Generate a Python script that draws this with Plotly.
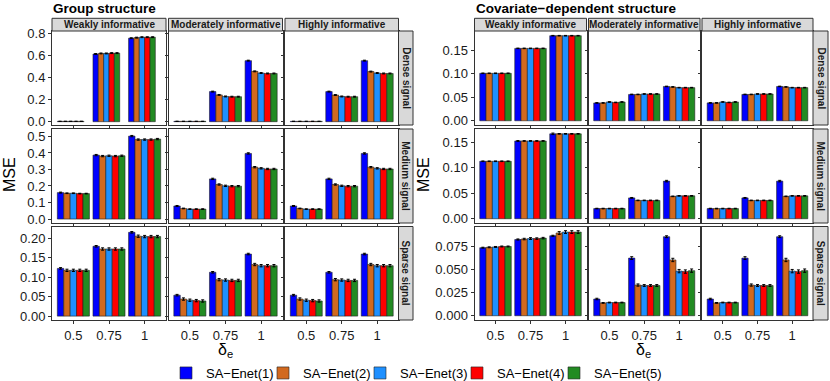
import plotly.graph_objects as go

W, H = 830, 381

# categories / labels
deltas = [1, 2, 3]
delta_labels = ["0.5", "0.75", "1"]
methods = ["SA\u2212Enet(1)", "SA\u2212Enet(2)", "SA\u2212Enet(3)", "SA\u2212Enet(4)", "SA\u2212Enet(5)"]
colors = ["#0000FF", "#D2691E", "#1E90FF", "#FF0000", "#228B22"]
col_names = ["Weakly informative", "Moderately informative", "Highly informative"]
row_names = ["Dense signal", "Medium signal", "Sparse signal"]

# MSE values, one list per method, values over delta_e = 0.5, 0.75, 1
# Group structure
grp_dense_weak = [[0.003, 0.612, 0.755], [0.003, 0.617, 0.760], [0.003, 0.617, 0.764], [0.003, 0.620, 0.764], [0.003, 0.620, 0.764]]
grp_dense_mod = [[0.003, 0.272, 0.552], [0.003, 0.242, 0.455], [0.003, 0.228, 0.440], [0.003, 0.226, 0.436], [0.003, 0.226, 0.436]]
grp_dense_high = [[0.003, 0.272, 0.552], [0.003, 0.241, 0.453], [0.003, 0.228, 0.440], [0.003, 0.226, 0.436], [0.003, 0.226, 0.436]]
grp_med_weak = [[0.160, 0.387, 0.502], [0.156, 0.381, 0.481], [0.156, 0.383, 0.481], [0.154, 0.381, 0.481], [0.154, 0.383, 0.484]]
grp_med_mod = [[0.079, 0.243, 0.397], [0.064, 0.209, 0.314], [0.060, 0.201, 0.307], [0.060, 0.199, 0.303], [0.060, 0.199, 0.303]]
grp_med_high = [[0.079, 0.243, 0.397], [0.064, 0.209, 0.314], [0.060, 0.201, 0.307], [0.060, 0.199, 0.303], [0.060, 0.199, 0.303]]
grp_sparse_weak = [[0.123, 0.180, 0.216], [0.118, 0.173, 0.206], [0.118, 0.173, 0.205], [0.118, 0.173, 0.205], [0.118, 0.173, 0.205]]
grp_sparse_mod = [[0.054, 0.113, 0.160], [0.044, 0.094, 0.133], [0.041, 0.093, 0.130], [0.040, 0.092, 0.130], [0.039, 0.092, 0.130]]
grp_sparse_high = [[0.054, 0.113, 0.160], [0.044, 0.094, 0.133], [0.041, 0.093, 0.130], [0.040, 0.092, 0.130], [0.039, 0.092, 0.130]]

# Covariate-dependent structure
cov_dense_weak = [[0.101, 0.154, 0.181], [0.101, 0.154, 0.181], [0.101, 0.154, 0.181], [0.101, 0.154, 0.181], [0.101, 0.154, 0.181]]
cov_dense_mod = [[0.038, 0.056, 0.073], [0.038, 0.056, 0.072], [0.040, 0.057, 0.0705], [0.039, 0.057, 0.0705], [0.040, 0.057, 0.0705]]
cov_dense_high = [[0.038, 0.056, 0.073], [0.038, 0.056, 0.072], [0.040, 0.057, 0.0705], [0.039, 0.057, 0.0705], [0.040, 0.057, 0.0705]]
cov_med_weak = [[0.113, 0.153, 0.167], [0.113, 0.153, 0.167], [0.113, 0.153, 0.167], [0.113, 0.153, 0.167], [0.113, 0.153, 0.167]]
cov_med_mod = [[0.020, 0.041, 0.074], [0.020, 0.036, 0.044], [0.020, 0.036, 0.045], [0.020, 0.036, 0.045], [0.020, 0.036, 0.045]]
cov_med_high = [[0.020, 0.041, 0.074], [0.020, 0.036, 0.044], [0.020, 0.036, 0.045], [0.020, 0.036, 0.045], [0.020, 0.036, 0.045]]
cov_sparse_weak = [[0.0732, 0.0820, 0.0860], [0.0736, 0.0825, 0.0890], [0.0740, 0.0830, 0.0900], [0.0745, 0.0830, 0.0900], [0.0745, 0.0835, 0.0900]]
cov_sparse_mod = [[0.0180, 0.0620, 0.0850], [0.0138, 0.0330, 0.0600], [0.0142, 0.0325, 0.0480], [0.0142, 0.0325, 0.0475], [0.0142, 0.0325, 0.0485]]
cov_sparse_high = [[0.0180, 0.0620, 0.0850], [0.0138, 0.0330, 0.0600], [0.0142, 0.0325, 0.0480], [0.0142, 0.0325, 0.0475], [0.0142, 0.0325, 0.0485]]

# standard errors (same layout)
grp_dense_se = [[0.001, 0.004, 0.004], [0.001, 0.004, 0.004], [0.001, 0.004, 0.004], [0.001, 0.004, 0.004], [0.001, 0.004, 0.004]]
grp_med_se = [[0.003, 0.004, 0.004], [0.002, 0.004, 0.004], [0.002, 0.004, 0.004], [0.002, 0.004, 0.004], [0.002, 0.004, 0.004]]
grp_sparse_se = [[0.002, 0.002, 0.002], [0.003, 0.003, 0.003], [0.003, 0.003, 0.003], [0.003, 0.003, 0.003], [0.003, 0.003, 0.003]]
cov_dense_se = [[0.0006, 0.0006, 0.0006], [0.0006, 0.0006, 0.0006], [0.0006, 0.0006, 0.0006], [0.0006, 0.0006, 0.0006], [0.0006, 0.0006, 0.0006]]
cov_med_se = [[0.0006, 0.0008, 0.0015], [0.0006, 0.0006, 0.0006], [0.0006, 0.0006, 0.0006], [0.0006, 0.0006, 0.0006], [0.0006, 0.0006, 0.0006]]
cov_sparse_se = [[0.0005, 0.0006, 0.0006], [0.0005, 0.0008, 0.0015], [0.0005, 0.0010, 0.0015], [0.0005, 0.0008, 0.0015], [0.0005, 0.0008, 0.0015]]
cov_sparse_mod_se = [[0.0008, 0.0015, 0.0010], [0.0004, 0.0012, 0.0018], [0.0004, 0.0010, 0.0018], [0.0004, 0.0010, 0.0018], [0.0004, 0.0010, 0.0018]]

blocks = [
    {"title": "Group structure",
     "panels": [[grp_dense_weak, grp_dense_mod, grp_dense_high],
                [grp_med_weak, grp_med_mod, grp_med_high],
                [grp_sparse_weak, grp_sparse_mod, grp_sparse_high]],
     "se": [[grp_dense_se] * 3, [grp_med_se] * 3, [grp_sparse_se] * 3],
     "yrange": [[-0.03, 0.82], [-0.024, 0.545], [-0.01, 0.231]],
     "dtick": [0.2, 0.1, 0.05], "fmt": [".1f", ".1f", ".2f"],
     "xs": [(52, 166), (168.5, 282.5), (285, 398.5)], "strip": (398.5, 413),
     "ylab_x": 10},
    {"title": "Covariate\u2212dependent structure",
     "panels": [[cov_dense_weak, cov_dense_mod, cov_dense_high],
                [cov_med_weak, cov_med_mod, cov_med_high],
                [cov_sparse_weak, cov_sparse_mod, cov_sparse_high]],
     "se": [[cov_dense_se] * 3, [cov_med_se] * 3, [cov_sparse_se, cov_sparse_mod_se, cov_sparse_mod_se]],
     "yrange": [[-0.009, 0.191], [-0.0084, 0.1765], [-0.0046, 0.096]],
     "dtick": [0.05, 0.05, 0.025], "fmt": [".2f", ".2f", ".3f"],
     "xs": [(474.5, 586.5), (588.5, 700), (702, 813)], "strip": (813, 828),
     "ylab_x": 424},
]
ys = [(31, 125), (129, 223), (226.5, 320)]
top_strip = (18.3, 31)

fx = lambda p: p / W
fy = lambda p: 1 - p / H

fig = go.Figure()
layout = {}
shapes = []
annotations = []
txt = "#1a1a1a"
strip_font = dict(family="Liberation Sans", size=10, color=txt)
tick_font = dict(family="Liberation Sans", size=13, color=txt)

n = 0
for b, blk in enumerate(blocks):
    for r in range(3):
        for c in range(3):
            n += 1
            sfx = "" if n == 1 else str(n)
            vals = blk["panels"][r][c]
            se = blk["se"][r][c]
            for m in range(5):
                fig.add_trace(go.Bar(
                    x=deltas, y=vals[m], name=methods[m],
                    marker=dict(color=colors[m], line=dict(color="#222222", width=0.6)),
                    error_y=dict(type="data", array=se[m], color="black", thickness=1, width=1.5),
                    xaxis="x" + sfx, yaxis="y" + sfx,
                    legendgroup=methods[m], showlegend=(n == 1),
                ))
            x0, x1 = blk["xs"][c]
            y0, y1 = ys[r]
            layout["xaxis" + sfx] = dict(
                domain=[fx(x0), fx(x1)], anchor="y" + sfx, range=[0.4, 3.6],
                tickvals=deltas, ticktext=delta_labels, showticklabels=(r == 2),
                ticks="outside", ticklen=3, tickcolor="#333333", automargin=False,
                showline=True, mirror=True, linecolor="#333333", linewidth=1,
                showgrid=False, zeroline=False, tickfont=tick_font,
            )
            layout["yaxis" + sfx] = dict(
                domain=[fy(y1), fy(y0)], anchor="x" + sfx, range=blk["yrange"][r],
                dtick=blk["dtick"][r], tick0=0, tickformat=blk["fmt"][r],
                showticklabels=(c == 0), ticks="outside", ticklen=3, tickcolor="#333333",
                automargin=False,
                showline=True, mirror=True, linecolor="#333333", linewidth=1,
                showgrid=False, zeroline=False, tickfont=tick_font,
            )
            # top strips
            if r == 0:
                shapes.append(dict(type="rect", xref="paper", yref="paper",
                                   x0=fx(x0), x1=fx(x1), y0=fy(top_strip[1]), y1=fy(top_strip[0]),
                                   fillcolor="#D9D9D9", line=dict(color="#333333", width=1)))
                annotations.append(dict(text="<b>" + col_names[c] + "</b>", xref="paper", yref="paper",
                                        x=fx((x0 + x1) / 2), y=fy(sum(top_strip) / 2),
                                        xanchor="center", yanchor="middle",
                                        showarrow=False, font=strip_font))
        # right strips
        s0, s1 = blk["strip"]
        y0, y1 = ys[r]
        shapes.append(dict(type="rect", xref="paper", yref="paper",
                           x0=fx(s0), x1=fx(s1), y0=fy(y1), y1=fy(y0),
                           fillcolor="#D9D9D9", line=dict(color="#333333", width=1)))
        annotations.append(dict(text="<b>" + row_names[r] + "</b>", xref="paper", yref="paper",
                                x=fx((s0 + s1) / 2), y=fy((y0 + y1) / 2), textangle=90,
                                xanchor="center", yanchor="middle",
                                showarrow=False, font=strip_font))
    # block title, axis titles
    bx0 = blk["xs"][0][0]
    bx1 = blk["xs"][2][1]
    annotations.append(dict(text="<b>" + blk["title"] + "</b>", xref="paper", yref="paper",
                            x=fx(bx0 - 1), y=fy(9), xanchor="left", yanchor="middle", showarrow=False,
                            font=dict(family="Liberation Sans", size=13.5, color="black")))
    annotations.append(dict(text="MSE", xref="paper", yref="paper",
                            x=fx(blk["ylab_x"]), y=fy(175), textangle=-90, showarrow=False,
                            xanchor="center", yanchor="middle",
                            font=dict(family="Liberation Sans", size=16, color="black")))
    annotations.append(dict(text="\u03b4<sub>e</sub>", xref="paper", yref="paper",
                            x=fx((bx0 + bx1) / 2), y=fy(350), showarrow=False,
                            xanchor="center", yanchor="middle",
                            font=dict(family="Liberation Sans", size=16, color="black")))

# empty trailing legend slot so the last (narrow-spaced) entry is not clipped
fig.add_trace(go.Bar(x=[None], y=[None], name=" ", showlegend=True, hoverinfo="skip",
                     marker=dict(color="rgba(0,0,0,0)", line=dict(width=0))))

fig.update_layout(
    width=W, height=H,
    margin=dict(l=0, r=0, t=0, b=0, autoexpand=False),
    paper_bgcolor="white", plot_bgcolor="white",
    barmode="group", bargap=0.1, bargroupgap=0,
    showlegend=True,
    legend=dict(orientation="h", x=fx(166), xanchor="left", y=fy(373), yanchor="middle",
                bgcolor="rgba(0,0,0,0)",
                font=dict(family="Liberation Sans", size=13, color="black"),
                itemwidth=30, entrywidth=52, tracegroupgap=0),
    shapes=shapes, annotations=annotations,
    **layout,
)

# drop the browser's default body margin so the figure sits at the page corner
fig.write_html("out.html", config={"displayModeBar": False},
               post_script="document.body.style.margin = '0';")
